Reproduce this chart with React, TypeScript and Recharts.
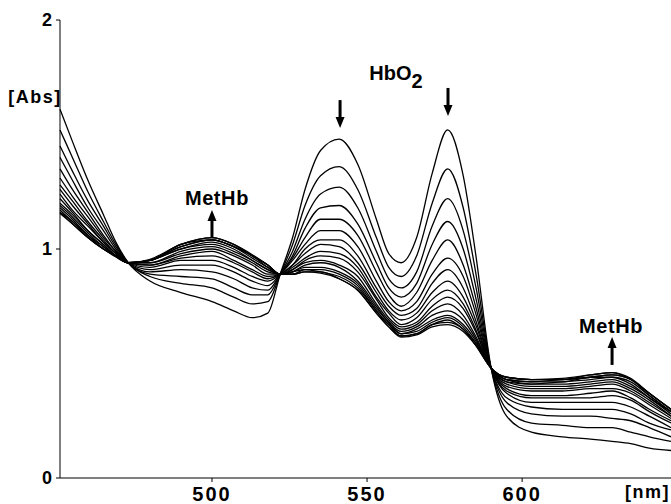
import React from 'react'
import { LineChart, Line, XAxis, YAxis, ReferenceDot } from 'recharts'

// wavelength grid (nm) the spectra were read at
const wavelengths = [451, 455, 460, 465, 469, 473, 480, 490, 500, 507, 513, 518, 522, 526, 530, 535, 541, 547, 553, 557, 561, 566, 571, 576, 581, 585, 590, 595, 603, 613, 622, 629, 635, 641, 648]

// first scan: oxyhemoglobin
const hbo2 = [1.61, 1.47, 1.30, 1.15, 1.03, 0.94, 0.86, 0.81, 0.77, 0.73, 0.70, 0.72, 0.89, 1.05, 1.26, 1.43, 1.48, 1.37, 1.13, 0.98, 0.94, 1.05, 1.33, 1.52, 1.32, 0.98, 0.48, 0.27, 0.20, 0.18, 0.17, 0.16, 0.15, 0.13, 0.12]
const scan01 = [1.52, 1.40, 1.25, 1.12, 1.02, 0.94, 0.88, 0.85, 0.83, 0.79, 0.76, 0.77, 0.89, 1.02, 1.19, 1.32, 1.36, 1.26, 1.05, 0.92, 0.88, 0.97, 1.20, 1.35, 1.18, 0.90, 0.48, 0.30, 0.24, 0.23, 0.22, 0.22, 0.20, 0.18, 0.16]
const scan02 = [1.45, 1.34, 1.21, 1.10, 1.01, 0.94, 0.89, 0.88, 0.87, 0.83, 0.80, 0.80, 0.89, 0.99, 1.13, 1.24, 1.27, 1.18, 0.99, 0.87, 0.83, 0.90, 1.10, 1.22, 1.08, 0.84, 0.48, 0.33, 0.28, 0.27, 0.27, 0.26, 0.25, 0.22, 0.18]
const scan03 = [1.40, 1.30, 1.18, 1.08, 1.00, 0.94, 0.90, 0.91, 0.90, 0.87, 0.83, 0.82, 0.89, 0.97, 1.09, 1.18, 1.19, 1.11, 0.94, 0.83, 0.79, 0.85, 1.02, 1.12, 1.00, 0.79, 0.48, 0.35, 0.31, 0.30, 0.30, 0.30, 0.28, 0.24, 0.21]
const scan04 = [1.35, 1.26, 1.16, 1.06, 0.99, 0.94, 0.91, 0.93, 0.93, 0.90, 0.86, 0.84, 0.89, 0.96, 1.05, 1.13, 1.13, 1.06, 0.90, 0.80, 0.75, 0.81, 0.95, 1.04, 0.93, 0.75, 0.48, 0.37, 0.33, 0.33, 0.33, 0.33, 0.31, 0.27, 0.22]
const scan05 = [1.31, 1.23, 1.14, 1.05, 0.99, 0.94, 0.92, 0.95, 0.95, 0.92, 0.88, 0.86, 0.89, 0.95, 1.02, 1.08, 1.08, 1.01, 0.86, 0.77, 0.73, 0.77, 0.89, 0.96, 0.88, 0.72, 0.48, 0.38, 0.35, 0.35, 0.35, 0.36, 0.34, 0.29, 0.24]
const scan06 = [1.28, 1.21, 1.12, 1.04, 0.98, 0.94, 0.93, 0.96, 0.97, 0.94, 0.90, 0.87, 0.89, 0.93, 1.00, 1.04, 1.04, 0.97, 0.83, 0.75, 0.71, 0.74, 0.85, 0.91, 0.83, 0.69, 0.48, 0.39, 0.36, 0.36, 0.37, 0.38, 0.35, 0.30, 0.25]
const scan07 = [1.26, 1.19, 1.11, 1.03, 0.98, 0.94, 0.93, 0.97, 0.99, 0.95, 0.91, 0.88, 0.89, 0.93, 0.98, 1.02, 1.01, 0.94, 0.81, 0.73, 0.69, 0.72, 0.81, 0.86, 0.79, 0.67, 0.48, 0.40, 0.38, 0.38, 0.39, 0.39, 0.37, 0.32, 0.26]
const scan08 = [1.24, 1.17, 1.10, 1.03, 0.98, 0.94, 0.94, 0.98, 1.00, 0.97, 0.93, 0.89, 0.89, 0.92, 0.96, 0.99, 0.98, 0.92, 0.79, 0.72, 0.67, 0.70, 0.78, 0.82, 0.76, 0.65, 0.48, 0.41, 0.39, 0.39, 0.40, 0.41, 0.38, 0.33, 0.27]
const scan09 = [1.22, 1.16, 1.08, 1.02, 0.97, 0.94, 0.94, 0.99, 1.01, 0.98, 0.94, 0.90, 0.89, 0.91, 0.95, 0.97, 0.96, 0.90, 0.78, 0.70, 0.66, 0.68, 0.75, 0.79, 0.74, 0.64, 0.48, 0.42, 0.40, 0.40, 0.41, 0.42, 0.39, 0.34, 0.27]
const scan10 = [1.20, 1.15, 1.08, 1.02, 0.97, 0.94, 0.95, 1.00, 1.02, 0.99, 0.95, 0.91, 0.89, 0.91, 0.94, 0.95, 0.93, 0.88, 0.76, 0.69, 0.65, 0.67, 0.73, 0.76, 0.71, 0.62, 0.48, 0.42, 0.41, 0.41, 0.42, 0.43, 0.40, 0.35, 0.28]
const scan11 = [1.19, 1.14, 1.07, 1.01, 0.97, 0.94, 0.95, 1.00, 1.03, 1.00, 0.95, 0.91, 0.89, 0.90, 0.93, 0.94, 0.92, 0.86, 0.75, 0.68, 0.64, 0.66, 0.71, 0.73, 0.69, 0.61, 0.48, 0.43, 0.41, 0.42, 0.43, 0.44, 0.41, 0.35, 0.29]
const scan12 = [1.18, 1.13, 1.06, 1.01, 0.97, 0.94, 0.95, 1.01, 1.04, 1.01, 0.96, 0.92, 0.89, 0.90, 0.92, 0.92, 0.90, 0.85, 0.74, 0.68, 0.63, 0.65, 0.69, 0.71, 0.67, 0.60, 0.48, 0.43, 0.42, 0.42, 0.44, 0.44, 0.42, 0.36, 0.29]
const scan13 = [1.17, 1.12, 1.06, 1.00, 0.97, 0.94, 0.95, 1.01, 1.04, 1.01, 0.97, 0.92, 0.89, 0.90, 0.91, 0.91, 0.89, 0.84, 0.73, 0.67, 0.63, 0.64, 0.68, 0.70, 0.66, 0.59, 0.48, 0.43, 0.42, 0.43, 0.44, 0.45, 0.43, 0.36, 0.29]
const scan14 = [1.16, 1.12, 1.05, 1.00, 0.97, 0.94, 0.95, 1.02, 1.04, 1.01, 0.97, 0.93, 0.89, 0.89, 0.91, 0.90, 0.88, 0.83, 0.73, 0.67, 0.62, 0.63, 0.67, 0.69, 0.65, 0.59, 0.48, 0.44, 0.43, 0.43, 0.44, 0.45, 0.43, 0.37, 0.30]
const scan15 = [1.16, 1.11, 1.05, 1.00, 0.97, 0.94, 0.95, 1.02, 1.05, 1.02, 0.97, 0.93, 0.89, 0.89, 0.90, 0.90, 0.87, 0.82, 0.72, 0.66, 0.62, 0.63, 0.67, 0.68, 0.65, 0.58, 0.48, 0.44, 0.43, 0.43, 0.45, 0.46, 0.43, 0.37, 0.30]
// last scan: methemoglobin
const methb = [1.155, 1.11, 1.05, 1.00, 0.965, 0.94, 0.955, 1.02, 1.05, 1.02, 0.975, 0.93, 0.89, 0.89, 0.90, 0.895, 0.87, 0.82, 0.72, 0.66, 0.615, 0.625, 0.66, 0.67, 0.64, 0.58, 0.48, 0.44, 0.43, 0.435, 0.45, 0.46, 0.435, 0.37, 0.30]

const spectra = [hbo2, scan01, scan02, scan03, scan04, scan05, scan06, scan07, scan08, scan09, scan10, scan11, scan12, scan13, scan14, scan15, methb]

const xTicks = [500, 550, 600]
const yTicks = [0, 1, 2]

const chartData = wavelengths.map((nm, i) => {
  const row: Record<string, number> = { nm }
  spectra.forEach((s, k) => {
    row[`s${k}`] = s[i]
  })
  return row
})

const FONT = '"Liberation Sans", Arial, Helvetica, sans-serif'

const textShape = (label: string) => (props: any) => (
  <text
    x={props.cx}
    y={props.cy}
    textAnchor="middle"
    fontFamily={FONT}
    fontWeight="bold"
    fontSize={20}
    letterSpacing={0.6}
    fill="#000"
  >
    {label}
  </text>
)

const hbo2Shape = (props: any) => (
  <text x={props.cx} y={props.cy} textAnchor="middle" fontFamily={FONT} fontWeight="bold" fontSize={20} fill="#000">
    HbO<tspan dy={8}>2</tspan>
  </text>
)

// tip of arrow sits on (cx, cy)
const arrowShape = (dir: 'up' | 'down') => (props: any) => {
  const { cx, cy } = props
  const s = dir === 'up' ? 1 : -1
  return (
    <g>
      <line x1={cx} y1={cy + s * 8} x2={cx} y2={cy + s * 28} stroke="#000" strokeWidth={3} />
      <path d={`M${cx},${cy} L${cx - 4.5},${cy + s * 11} L${cx + 4.5},${cy + s * 11} Z`} fill="#000" />
    </g>
  )
}

export default function App() {
  return (
    <div style={{ position: 'absolute', left: 0, top: 0, width: 671, height: 504, background: '#fff' }}>
      <LineChart width={671} height={504} data={chartData} margin={{ top: 20, right: 0, bottom: 0, left: 0 }}>
        <XAxis
          dataKey="nm"
          type="number"
          domain={[451, 648]}
          ticks={xTicks}
          height={26}
          tickSize={4}
          tickMargin={5}
          stroke="#000"
          tick={{ fill: '#000', fontSize: 20, fontWeight: 'bold', fontFamily: FONT, letterSpacing: 2 }}
          label={(p: any) => {
            const vb = p.viewBox || { x: 60, y: 478, width: 611, height: 26 }
            return (
              <text x={vb.x + vb.width - 1} y={vb.y + 20} textAnchor="end" fontFamily={FONT} fontWeight="bold" fontSize={18} letterSpacing={1.5} fill="#000">
                [nm]
              </text>
            )
          }}
        />
        <YAxis
          type="number"
          domain={[0, 2]}
          ticks={yTicks}
          width={60}
          tickSize={4}
          tickMargin={4}
          stroke="#000"
          tick={{ fill: '#000', fontSize: 18, fontWeight: 'bold', fontFamily: FONT }}
          label={(p: any) => {
            const vb = p.viewBox || { x: 0, y: 20, width: 60, height: 458 }
            return (
              <text x={vb.x + 35} y={vb.y + 83} textAnchor="middle" fontFamily={FONT} fontWeight="bold" fontSize={18} letterSpacing={1.5} fill="#000">
                [Abs]
              </text>
            )
          }}
        />

        {spectra.map((_, k) => (
          <Line
            key={k}
            type="monotone"
            dataKey={`s${k}`}
            stroke="#000"
            strokeWidth={1.3}
            dot={false}
            activeDot={false}
            isAnimationActive={false}
          />
        ))}

        <ReferenceDot x={501.6} y={1.192} r={0} shape={textShape('MetHb')} />
        <ReferenceDot x={500} y={1.17} r={0} shape={arrowShape('up')} />
        <ReferenceDot x={559.3} y={1.738} r={0} shape={hbo2Shape} />
        <ReferenceDot x={541.3} y={1.528} r={0} shape={arrowShape('down')} />
        <ReferenceDot x={576.1} y={1.581} r={0} shape={arrowShape('down')} />
        <ReferenceDot x={628.7} y={0.633} r={0} shape={textShape('MetHb')} />
        <ReferenceDot x={629} y={0.616} r={0} shape={arrowShape('up')} />
      </LineChart>
    </div>
  )
}
